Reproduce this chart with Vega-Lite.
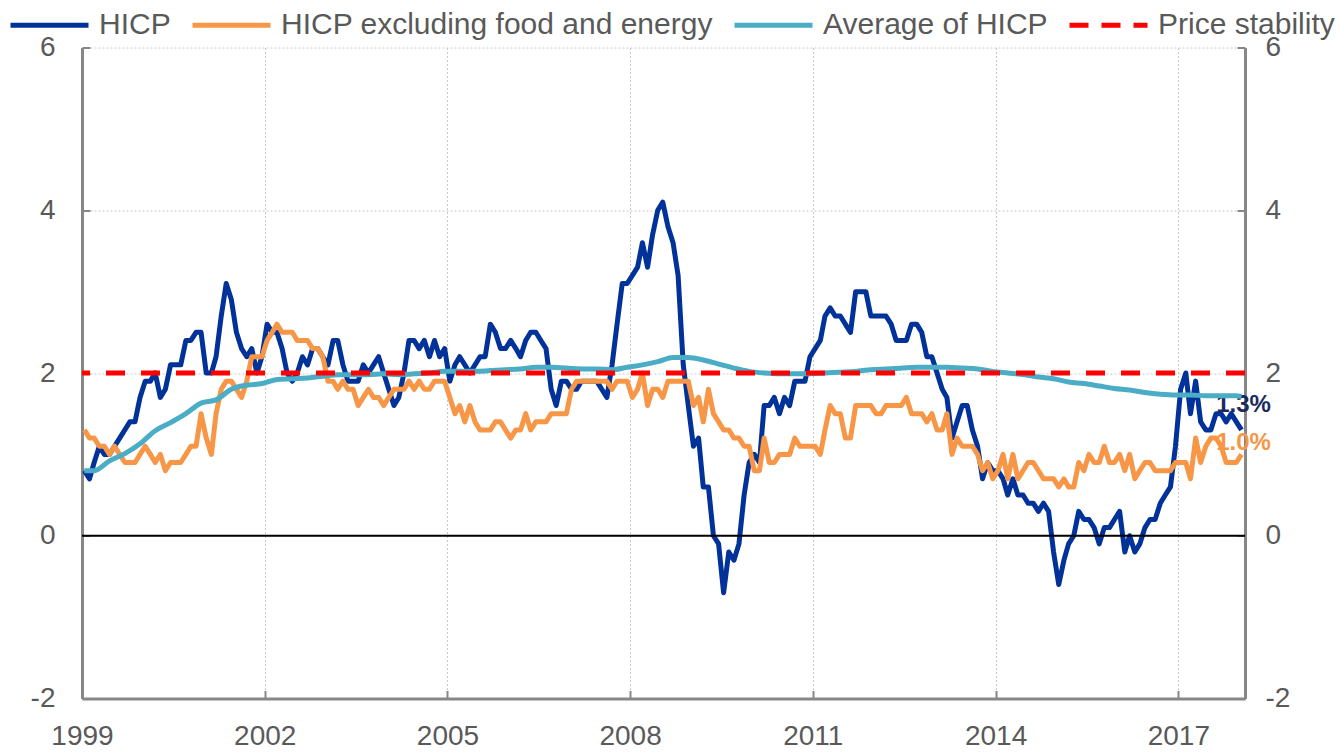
{
  "$schema": "https://vega.github.io/schema/vega-lite/v6.json",
  "width": 1163,
  "height": 651,
  "autosize": {"type": "none"},
  "padding": {"left": 82, "top": 47.5, "right": 95, "bottom": 53.5},
  "background": "white",
  "config": {
    "view": {"stroke": null},
    "font": "Liberation Sans",
    "axis": {
      "title": null,
      "labelFont": "Liberation Sans",
      "labelFontSize": 28,
      "labelColor": "#595959",
      "tickSize": -8,
      "tickColor": "#878787",
      "tickWidth": 2,
      "domainColor": "#878787",
      "domainWidth": 3,
      "gridColor": "#C8C8C8",
      "gridDash": [2, 2],
      "gridWidth": 1,
      "labelFlush": false,
      "labelOverlap": false,
      "labelBound": false
    }
  },
  "datasets": {
    "m": [
      {"d":"1999-01-15","h":0.8,"c":1.3},{"d":"1999-02-15","h":0.7,"c":1.2},{"d":"1999-03-15","h":0.9,"c":1.2},{"d":"1999-04-15","h":1.1,"c":1.1},{"d":"1999-05-15","h":1.0,"c":1.1},{"d":"1999-06-15","h":1.0,"c":1.0},{"d":"1999-07-15","h":1.1,"c":1.1},{"d":"1999-08-15","h":1.2,"c":1.0},{"d":"1999-09-15","h":1.3,"c":0.9},{"d":"1999-10-15","h":1.4,"c":0.9},{"d":"1999-11-15","h":1.4,"c":0.9},{"d":"1999-12-15","h":1.7,"c":1.0},
      {"d":"2000-01-15","h":1.9,"c":1.1},{"d":"2000-02-15","h":1.9,"c":1.0},{"d":"2000-03-15","h":2.0,"c":0.9},{"d":"2000-04-15","h":1.7,"c":1.0},{"d":"2000-05-15","h":1.8,"c":0.8},{"d":"2000-06-15","h":2.1,"c":0.9},{"d":"2000-07-15","h":2.1,"c":0.9},{"d":"2000-08-15","h":2.1,"c":0.9},{"d":"2000-09-15","h":2.4,"c":1.0},{"d":"2000-10-15","h":2.4,"c":1.1},{"d":"2000-11-15","h":2.5,"c":1.1},{"d":"2000-12-15","h":2.5,"c":1.5},
      {"d":"2001-01-15","h":2.0,"c":1.2},{"d":"2001-02-15","h":2.0,"c":1.0},{"d":"2001-03-15","h":2.2,"c":1.5},{"d":"2001-04-15","h":2.7,"c":1.8},{"d":"2001-05-15","h":3.1,"c":1.9},{"d":"2001-06-15","h":2.9,"c":1.9},{"d":"2001-07-15","h":2.5,"c":1.8},{"d":"2001-08-15","h":2.3,"c":1.7},{"d":"2001-09-15","h":2.2,"c":1.9},{"d":"2001-10-15","h":2.3,"c":2.2},{"d":"2001-11-15","h":2.0,"c":2.2},{"d":"2001-12-15","h":2.2,"c":2.2},
      {"d":"2002-01-15","h":2.6,"c":2.4},{"d":"2002-02-15","h":2.5,"c":2.5},{"d":"2002-03-15","h":2.5,"c":2.6},{"d":"2002-04-15","h":2.3,"c":2.5},{"d":"2002-05-15","h":2.0,"c":2.5},{"d":"2002-06-15","h":1.9,"c":2.5},{"d":"2002-07-15","h":2.0,"c":2.4},{"d":"2002-08-15","h":2.2,"c":2.4},{"d":"2002-09-15","h":2.1,"c":2.4},{"d":"2002-10-15","h":2.3,"c":2.3},{"d":"2002-11-15","h":2.3,"c":2.3},{"d":"2002-12-15","h":2.2,"c":2.2},
      {"d":"2003-01-15","h":2.1,"c":1.9},{"d":"2003-02-15","h":2.4,"c":1.9},{"d":"2003-03-15","h":2.4,"c":1.8},{"d":"2003-04-15","h":2.1,"c":1.9},{"d":"2003-05-15","h":1.9,"c":1.8},{"d":"2003-06-15","h":1.9,"c":1.8},{"d":"2003-07-15","h":1.9,"c":1.6},{"d":"2003-08-15","h":2.1,"c":1.7},{"d":"2003-09-15","h":2.0,"c":1.8},{"d":"2003-10-15","h":2.1,"c":1.7},{"d":"2003-11-15","h":2.2,"c":1.7},{"d":"2003-12-15","h":2.0,"c":1.6},
      {"d":"2004-01-15","h":1.8,"c":1.7},{"d":"2004-02-15","h":1.6,"c":1.8},{"d":"2004-03-15","h":1.7,"c":1.8},{"d":"2004-04-15","h":2.0,"c":1.8},{"d":"2004-05-15","h":2.4,"c":1.9},{"d":"2004-06-15","h":2.4,"c":1.8},{"d":"2004-07-15","h":2.3,"c":1.9},{"d":"2004-08-15","h":2.4,"c":1.8},{"d":"2004-09-15","h":2.2,"c":1.8},{"d":"2004-10-15","h":2.4,"c":1.9},{"d":"2004-11-15","h":2.2,"c":1.9},{"d":"2004-12-15","h":2.3,"c":1.9},
      {"d":"2005-01-15","h":1.9,"c":1.7},{"d":"2005-02-15","h":2.1,"c":1.5},{"d":"2005-03-15","h":2.2,"c":1.6},{"d":"2005-04-15","h":2.1,"c":1.4},{"d":"2005-05-15","h":2.0,"c":1.6},{"d":"2005-06-15","h":2.1,"c":1.4},{"d":"2005-07-15","h":2.2,"c":1.3},{"d":"2005-08-15","h":2.2,"c":1.3},{"d":"2005-09-15","h":2.6,"c":1.3},{"d":"2005-10-15","h":2.5,"c":1.4},{"d":"2005-11-15","h":2.3,"c":1.4},{"d":"2005-12-15","h":2.3,"c":1.3},
      {"d":"2006-01-15","h":2.4,"c":1.2},{"d":"2006-02-15","h":2.3,"c":1.3},{"d":"2006-03-15","h":2.2,"c":1.3},{"d":"2006-04-15","h":2.4,"c":1.5},{"d":"2006-05-15","h":2.5,"c":1.3},{"d":"2006-06-15","h":2.5,"c":1.4},{"d":"2006-07-15","h":2.4,"c":1.4},{"d":"2006-08-15","h":2.3,"c":1.4},{"d":"2006-09-15","h":1.8,"c":1.5},{"d":"2006-10-15","h":1.6,"c":1.5},{"d":"2006-11-15","h":1.9,"c":1.5},{"d":"2006-12-15","h":1.9,"c":1.5},
      {"d":"2007-01-15","h":1.8,"c":1.8},{"d":"2007-02-15","h":1.8,"c":1.9},{"d":"2007-03-15","h":1.9,"c":1.9},{"d":"2007-04-15","h":1.9,"c":1.9},{"d":"2007-05-15","h":1.9,"c":1.9},{"d":"2007-06-15","h":1.9,"c":1.9},{"d":"2007-07-15","h":1.8,"c":1.9},{"d":"2007-08-15","h":1.7,"c":1.9},{"d":"2007-09-15","h":2.1,"c":1.8},{"d":"2007-10-15","h":2.6,"c":1.9},{"d":"2007-11-15","h":3.1,"c":1.9},{"d":"2007-12-15","h":3.1,"c":1.9},
      {"d":"2008-01-15","h":3.2,"c":1.7},{"d":"2008-02-15","h":3.3,"c":1.8},{"d":"2008-03-15","h":3.6,"c":2.0},{"d":"2008-04-15","h":3.3,"c":1.6},{"d":"2008-05-15","h":3.7,"c":1.8},{"d":"2008-06-15","h":4.0,"c":1.8},{"d":"2008-07-15","h":4.1,"c":1.7},{"d":"2008-08-15","h":3.8,"c":1.9},{"d":"2008-09-15","h":3.6,"c":1.9},{"d":"2008-10-15","h":3.2,"c":1.9},{"d":"2008-11-15","h":2.1,"c":1.9},{"d":"2008-12-15","h":1.6,"c":1.9},
      {"d":"2009-01-15","h":1.1,"c":1.6},{"d":"2009-02-15","h":1.2,"c":1.7},{"d":"2009-03-15","h":0.6,"c":1.4},{"d":"2009-04-15","h":0.6,"c":1.8},{"d":"2009-05-15","h":0.0,"c":1.5},{"d":"2009-06-15","h":-0.1,"c":1.4},{"d":"2009-07-15","h":-0.7,"c":1.3},{"d":"2009-08-15","h":-0.2,"c":1.3},{"d":"2009-09-15","h":-0.3,"c":1.2},{"d":"2009-10-15","h":-0.1,"c":1.2},{"d":"2009-11-15","h":0.5,"c":1.1},{"d":"2009-12-15","h":0.9,"c":1.1},
      {"d":"2010-01-15","h":1.0,"c":0.8},{"d":"2010-02-15","h":0.9,"c":0.8},{"d":"2010-03-15","h":1.6,"c":1.2},{"d":"2010-04-15","h":1.6,"c":0.9},{"d":"2010-05-15","h":1.7,"c":0.9},{"d":"2010-06-15","h":1.5,"c":1.0},{"d":"2010-07-15","h":1.7,"c":1.0},{"d":"2010-08-15","h":1.6,"c":1.0},{"d":"2010-09-15","h":1.9,"c":1.2},{"d":"2010-10-15","h":1.9,"c":1.1},{"d":"2010-11-15","h":1.9,"c":1.1},{"d":"2010-12-15","h":2.2,"c":1.1},
      {"d":"2011-01-15","h":2.3,"c":1.1},{"d":"2011-02-15","h":2.4,"c":1.0},{"d":"2011-03-15","h":2.7,"c":1.3},{"d":"2011-04-15","h":2.8,"c":1.6},{"d":"2011-05-15","h":2.7,"c":1.5},{"d":"2011-06-15","h":2.7,"c":1.5},{"d":"2011-07-15","h":2.6,"c":1.2},{"d":"2011-08-15","h":2.5,"c":1.2},{"d":"2011-09-15","h":3.0,"c":1.6},{"d":"2011-10-15","h":3.0,"c":1.6},{"d":"2011-11-15","h":3.0,"c":1.6},{"d":"2011-12-15","h":2.7,"c":1.6},
      {"d":"2012-01-15","h":2.7,"c":1.5},{"d":"2012-02-15","h":2.7,"c":1.5},{"d":"2012-03-15","h":2.7,"c":1.6},{"d":"2012-04-15","h":2.6,"c":1.6},{"d":"2012-05-15","h":2.4,"c":1.6},{"d":"2012-06-15","h":2.4,"c":1.6},{"d":"2012-07-15","h":2.4,"c":1.7},{"d":"2012-08-15","h":2.6,"c":1.5},{"d":"2012-09-15","h":2.6,"c":1.5},{"d":"2012-10-15","h":2.5,"c":1.5},{"d":"2012-11-15","h":2.2,"c":1.4},{"d":"2012-12-15","h":2.2,"c":1.5},
      {"d":"2013-01-15","h":2.0,"c":1.3},{"d":"2013-02-15","h":1.8,"c":1.3},{"d":"2013-03-15","h":1.7,"c":1.5},{"d":"2013-04-15","h":1.2,"c":1.0},{"d":"2013-05-15","h":1.4,"c":1.2},{"d":"2013-06-15","h":1.6,"c":1.1},{"d":"2013-07-15","h":1.6,"c":1.1},{"d":"2013-08-15","h":1.3,"c":1.1},{"d":"2013-09-15","h":1.1,"c":1.0},{"d":"2013-10-15","h":0.7,"c":0.8},{"d":"2013-11-15","h":0.9,"c":0.9},{"d":"2013-12-15","h":0.8,"c":0.7},
      {"d":"2014-01-15","h":0.8,"c":0.8},{"d":"2014-02-15","h":0.7,"c":1.0},{"d":"2014-03-15","h":0.5,"c":0.7},{"d":"2014-04-15","h":0.7,"c":1.0},{"d":"2014-05-15","h":0.5,"c":0.7},{"d":"2014-06-15","h":0.5,"c":0.8},{"d":"2014-07-15","h":0.4,"c":0.9},{"d":"2014-08-15","h":0.4,"c":0.9},{"d":"2014-09-15","h":0.3,"c":0.8},{"d":"2014-10-15","h":0.4,"c":0.7},{"d":"2014-11-15","h":0.3,"c":0.7},{"d":"2014-12-15","h":-0.2,"c":0.7},
      {"d":"2015-01-15","h":-0.6,"c":0.6},{"d":"2015-02-15","h":-0.3,"c":0.7},{"d":"2015-03-15","h":-0.1,"c":0.6},{"d":"2015-04-15","h":0.0,"c":0.6},{"d":"2015-05-15","h":0.3,"c":0.9},{"d":"2015-06-15","h":0.2,"c":0.8},{"d":"2015-07-15","h":0.2,"c":1.0},{"d":"2015-08-15","h":0.1,"c":0.9},{"d":"2015-09-15","h":-0.1,"c":0.9},{"d":"2015-10-15","h":0.1,"c":1.1},{"d":"2015-11-15","h":0.1,"c":0.9},{"d":"2015-12-15","h":0.2,"c":0.9},
      {"d":"2016-01-15","h":0.3,"c":1.0},{"d":"2016-02-15","h":-0.2,"c":0.8},{"d":"2016-03-15","h":0.0,"c":1.0},{"d":"2016-04-15","h":-0.2,"c":0.7},{"d":"2016-05-15","h":-0.1,"c":0.8},{"d":"2016-06-15","h":0.1,"c":0.9},{"d":"2016-07-15","h":0.2,"c":0.9},{"d":"2016-08-15","h":0.2,"c":0.8},{"d":"2016-09-15","h":0.4,"c":0.8},{"d":"2016-10-15","h":0.5,"c":0.8},{"d":"2016-11-15","h":0.6,"c":0.8},{"d":"2016-12-15","h":1.1,"c":0.9},
      {"d":"2017-01-15","h":1.8,"c":0.9},{"d":"2017-02-15","h":2.0,"c":0.9},{"d":"2017-03-15","h":1.5,"c":0.7},{"d":"2017-04-15","h":1.9,"c":1.2},{"d":"2017-05-15","h":1.4,"c":0.9},{"d":"2017-06-15","h":1.3,"c":1.1},{"d":"2017-07-15","h":1.3,"c":1.2},{"d":"2017-08-15","h":1.5,"c":1.2},{"d":"2017-09-15","h":1.5,"c":1.1},{"d":"2017-10-15","h":1.4,"c":0.9},{"d":"2017-11-15","h":1.5,"c":0.9},{"d":"2017-12-15","h":1.4,"c":0.9},
      {"d":"2018-01-15","h":1.3,"c":1.0}
    ],
    "avg": [
      {"d":"1999-01-15","a":0.80},{"d":"1999-03-15","a":0.80},{"d":"1999-06-15","a":0.92},{"d":"1999-09-15","a":1.01},{"d":"1999-12-15","a":1.13},
      {"d":"2000-03-15","a":1.29},{"d":"2000-06-15","a":1.39},{"d":"2000-09-15","a":1.50},{"d":"2000-12-15","a":1.63},
      {"d":"2001-03-15","a":1.67},{"d":"2001-06-15","a":1.80},{"d":"2001-09-15","a":1.85},{"d":"2001-12-15","a":1.87},
      {"d":"2002-03-15","a":1.92},{"d":"2002-06-15","a":1.93},{"d":"2002-09-15","a":1.94},{"d":"2002-12-15","a":1.96},
      {"d":"2003-03-15","a":1.98},{"d":"2003-06-15","a":1.98},{"d":"2003-09-15","a":1.98},{"d":"2003-12-15","a":1.99},
      {"d":"2004-03-15","a":1.98},{"d":"2004-06-15","a":1.99},{"d":"2004-09-15","a":2.00},{"d":"2004-12-15","a":2.02},
      {"d":"2005-03-15","a":2.02},{"d":"2005-06-15","a":2.02},{"d":"2005-09-15","a":2.03},{"d":"2005-12-15","a":2.04},
      {"d":"2006-03-15","a":2.05},{"d":"2006-06-15","a":2.07},{"d":"2006-09-15","a":2.07},{"d":"2006-12-15","a":2.06},
      {"d":"2007-03-15","a":2.05},{"d":"2007-06-15","a":2.05},{"d":"2007-09-15","a":2.04},{"d":"2007-12-15","a":2.07},
      {"d":"2008-03-15","a":2.10},{"d":"2008-06-15","a":2.14},{"d":"2008-09-15","a":2.19},{"d":"2008-12-15","a":2.19},
      {"d":"2009-03-15","a":2.16},{"d":"2009-06-15","a":2.11},{"d":"2009-09-15","a":2.06},{"d":"2009-12-15","a":2.02},
      {"d":"2010-03-15","a":2.00},{"d":"2010-06-15","a":1.99},{"d":"2010-09-15","a":1.99},{"d":"2010-12-15","a":1.99},
      {"d":"2011-03-15","a":2.00},{"d":"2011-06-15","a":2.01},{"d":"2011-09-15","a":2.02},{"d":"2011-12-15","a":2.04},
      {"d":"2012-03-15","a":2.05},{"d":"2012-06-15","a":2.06},{"d":"2012-09-15","a":2.07},{"d":"2012-12-15","a":2.07},
      {"d":"2013-03-15","a":2.07},{"d":"2013-06-15","a":2.06},{"d":"2013-09-15","a":2.05},{"d":"2013-12-15","a":2.02},
      {"d":"2014-03-15","a":2.00},{"d":"2014-06-15","a":1.98},{"d":"2014-09-15","a":1.95},{"d":"2014-12-15","a":1.93},
      {"d":"2015-03-15","a":1.89},{"d":"2015-06-15","a":1.87},{"d":"2015-09-15","a":1.84},{"d":"2015-12-15","a":1.81},
      {"d":"2016-03-15","a":1.79},{"d":"2016-06-15","a":1.76},{"d":"2016-09-15","a":1.74},{"d":"2016-12-15","a":1.73},
      {"d":"2017-03-15","a":1.73},{"d":"2017-06-15","a":1.72},{"d":"2017-09-15","a":1.72},{"d":"2017-12-15","a":1.72},
      {"d":"2018-01-15","a":1.71}
    ],
    "lab": [
      {"d":"2018-01-15","v":1.3,"t":"1.3%","s":"h"},
      {"d":"2018-01-15","v":1.0,"t":"1.0%","s":"c"}
    ]
  },
  "layer": [
    {
      "data": {"name": "m"},
      "mark": {"type": "line", "strokeWidth": 5, "strokeJoin": "round"},
      "encoding": {
        "x": {
          "field": "d", "type": "temporal",
          "scale": {"type": "utc", "domain": [{"year": 1999, "month": 1, "date": 1, "utc": true}, {"year": 2018, "month": 2, "date": 5, "utc": true}]},
          "axis": {
            "grid": true,
            "labelPadding": 32,
            "format": "%Y",
            "values": [
              {"year": 1999, "month": 1, "date": 1, "utc": true},
              {"year": 2002, "month": 1, "date": 1, "utc": true},
              {"year": 2005, "month": 1, "date": 1, "utc": true},
              {"year": 2008, "month": 1, "date": 1, "utc": true},
              {"year": 2011, "month": 1, "date": 1, "utc": true},
              {"year": 2014, "month": 1, "date": 1, "utc": true},
              {"year": 2017, "month": 1, "date": 1, "utc": true}
            ]
          }
        },
        "y": {
          "field": "h", "type": "quantitative",
          "scale": {"domain": [-2, 6]},
          "axis": {"orient": "left", "values": [-2, 0, 2, 4, 6], "grid": true, "labelPadding": 35, "labelExpr": "datum.value < 0 ? '-' + abs(datum.value) : '' + datum.value"}
        },
        "color": {
          "datum": "HICP", "type": "nominal",
          "scale": {
            "domain": ["HICP", "HICP excluding food and energy", "Average of HICP", "Price stability"],
            "range": ["#003299", "#F79646", "#4BACC6", "#FF0000"]
          },
          "legend": {
            "title": null,
            "orient": "none",
            "legendX": -74,
            "legendY": -64,
            "direction": "horizontal",
            "symbolType": "stroke",
            "symbolSize": 6084,
            "symbolStrokeWidth": 5,
            "labelFont": "Liberation Sans",
            "labelFontSize": 30,
            "labelColor": "#595959",
            "labelOffset": 8,
            "columnPadding": 11,
            "padding": 0,
            "labelLimit": 0,
            "encode": {"symbols": {"update": {"strokeDash": {"signal": "datum.value === 'Price stability' ? [19, 13] : [1, 0]"}}}}
          }
        }
      }
    },
    {
      "data": {"name": "lab"},
      "transform": [{"filter": "datum.s === 'c'"}],
      "mark": {"type": "text", "fontSize": 24, "fontWeight": "bold", "color": "#F79646", "dy": -11, "dx": 2, "align": "center", "baseline": "middle"},
      "encoding": {
        "x": {"field": "d", "type": "temporal", "scale": {"type": "utc", "domain": [{"year": 1999, "month": 1, "date": 1, "utc": true}, {"year": 2018, "month": 2, "date": 5, "utc": true}]}},
        "y": {"field": "v", "type": "quantitative", "scale": {"domain": [-2, 6]}, "axis": null},
        "text": {"field": "t"}
      }
    },
    {
      "data": {"name": "lab"},
      "transform": [{"filter": "datum.s === 'h'"}],
      "mark": {"type": "text", "fontSize": 24, "fontWeight": "bold", "color": "#1B2A5E", "dy": -25, "dx": 2, "align": "center", "baseline": "middle"},
      "encoding": {
        "x": {"field": "d", "type": "temporal", "scale": {"type": "utc", "domain": [{"year": 1999, "month": 1, "date": 1, "utc": true}, {"year": 2018, "month": 2, "date": 5, "utc": true}]}},
        "y": {"field": "v", "type": "quantitative", "scale": {"domain": [-2, 6]}, "axis": null},
        "text": {"field": "t"}
      }
    },
    {
      "data": {"values": [{"v": 0}]},
      "mark": {"type": "rule", "color": "#000000", "strokeWidth": 2},
      "encoding": {
        "y": {"field": "v", "type": "quantitative", "scale": {"domain": [-2, 6]}, "axis": null}
      }
    },
    {
      "data": {"name": "m"},
      "mark": {"type": "line", "strokeWidth": 5, "strokeJoin": "round"},
      "encoding": {
        "x": {"field": "d", "type": "temporal", "scale": {"type": "utc", "domain": [{"year": 1999, "month": 1, "date": 1, "utc": true}, {"year": 2018, "month": 2, "date": 5, "utc": true}]}},
        "y": {
          "field": "c", "type": "quantitative",
          "scale": {"domain": [-2, 6]},
          "axis": {"orient": "right", "values": [-2, 0, 2, 4, 6], "grid": false, "labelPadding": 28, "labelExpr": "datum.value < 0 ? '-' + abs(datum.value) : '' + datum.value"}
        },
        "color": {"datum": "HICP excluding food and energy", "type": "nominal"}
      }
    },
    {
      "data": {"name": "avg"},
      "mark": {"type": "line", "strokeWidth": 5, "interpolate": "monotone"},
      "encoding": {
        "x": {"field": "d", "type": "temporal", "scale": {"type": "utc", "domain": [{"year": 1999, "month": 1, "date": 1, "utc": true}, {"year": 2018, "month": 2, "date": 5, "utc": true}]}},
        "y": {"field": "a", "type": "quantitative", "scale": {"domain": [-2, 6]}, "axis": null},
        "color": {"datum": "Average of HICP", "type": "nominal"}
      }
    },
    {
      "data": {"values": [{"v": 2}]},
      "mark": {"type": "rule", "strokeWidth": 5, "strokeDash": [19, 16]},
      "encoding": {
        "y": {"field": "v", "type": "quantitative", "scale": {"domain": [-2, 6]}, "axis": null},
        "color": {"datum": "Price stability", "type": "nominal"}
      }
    }
  ],
  "resolve": {"axis": {"y": "independent"}}
}
